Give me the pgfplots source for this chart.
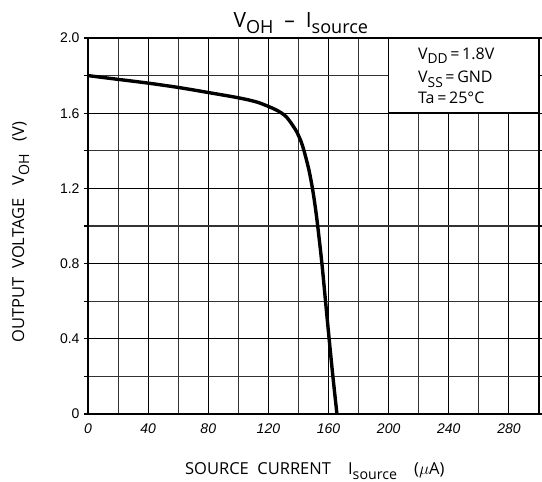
\documentclass[border=0pt]{standalone}
\usepackage{fontspec}
\usepackage{graphicx}
\usepackage{pgfplots}
\pgfplotsset{compat=1.18}
\setmainfont{Open Sans}
\newfontfamily\libsans{Liberation Sans}
\newcommand{\sub}[1]{\raisebox{-0.3em}{\scalebox{0.86}{#1}}}

\begin{document}
\begin{tikzpicture}
\useasboundingbox (-88pt,-68pt) rectangle (454pt,414pt);
\begin{axis}[
  scale only axis,
  width=451pt, height=376pt,
  xmin=0, xmax=300, ymin=0, ymax=2.0,
  xtick={0,40,...,280},
  minor xtick={20,60,...,300},
  ytick={0,0.4,0.8,1.2,1.6,2.0},
  minor ytick={0.2,0.6,1.0,1.4,1.8},
  xticklabels={0,40,80,120,160,200,240,280},
  yticklabels={0,0.4,0.8,1.2,1.6,2.0},
  grid=both,
  major grid style={line width=1.1pt, draw=black},
  minor grid style={line width=1.1pt, draw=black!80},
  axis line style={line width=2.6pt},
  tick align=outside,
  major tick length=4pt, minor tick length=4pt,
  x tick style={draw=none},
  y tick style={line width=1.1pt, black},
  xticklabel style={font=\libsans\itshape\fontsize{14}{16}\selectfont, yshift=-2pt},
  yticklabel style={font=\libsans\fontsize{14}{16}\selectfont, xshift=-1pt},
  xlabel={SOURCE\ \ CURRENT\ \ \ \ I\sub{source}\ \ \ \ ($\mu$A)},
  ylabel={OUTPUT\ \ VOLTAGE\ \ \ V\sub{OH}\ \ \ (V)},
  label style={font=\fontsize{16.5}{18}\selectfont},
  xlabel style={at={(axis description cs:0.503,-0.162)}, anchor=base},
  ylabel style={at={(axis description cs:-0.149,0.484)}, anchor=center},
  clip=false,
]
\addplot[line width=3.4pt, black, smooth, tension=0.55] coordinates {
  (0,1.800) (20,1.780) (40,1.760) (60,1.737) (80,1.710) (100,1.682)
  (112,1.660) (120,1.636) (125,1.618) (128.9,1.600) (132,1.580)
  (134.9,1.550) (137,1.525) (138.9,1.500) (141.7,1.450) (143.7,1.400)
  (146.9,1.300) (149.3,1.200) (151.2,1.100) (152.8,1.000) (155.6,0.800)
  (158,0.600) (160.4,0.400) (162.9,0.200) (165.6,0.000)
};
\draw[fill=white, line width=1.5pt] (axis cs:200,1.6) rectangle (axis cs:300,2.0);
\node[anchor=base west, font=\fontsize{16}{18}\selectfont, inner sep=0pt] at (axis cs:219.5,1.888) {V\sub{DD}\,=\,1.8V};
\node[anchor=base west, font=\fontsize{16}{18}\selectfont, inner sep=0pt] at (axis cs:219.5,1.762) {V\sub{SS}\,=\,GND};
\node[anchor=base west, font=\fontsize{16}{18}\selectfont, inner sep=0pt] at (axis cs:219.5,1.649) {Ta\,=\,25°C};
\draw[line width=2.6pt] (rel axis cs:0,0) rectangle (rel axis cs:1,1);
\node[anchor=base, font=\fontsize{21}{23}\selectfont] at (rel axis cs:0.472,1.029) {V\sub{OH}\ \ –\ \ I\sub{source}};
\end{axis}
\end{tikzpicture}
\end{document}
